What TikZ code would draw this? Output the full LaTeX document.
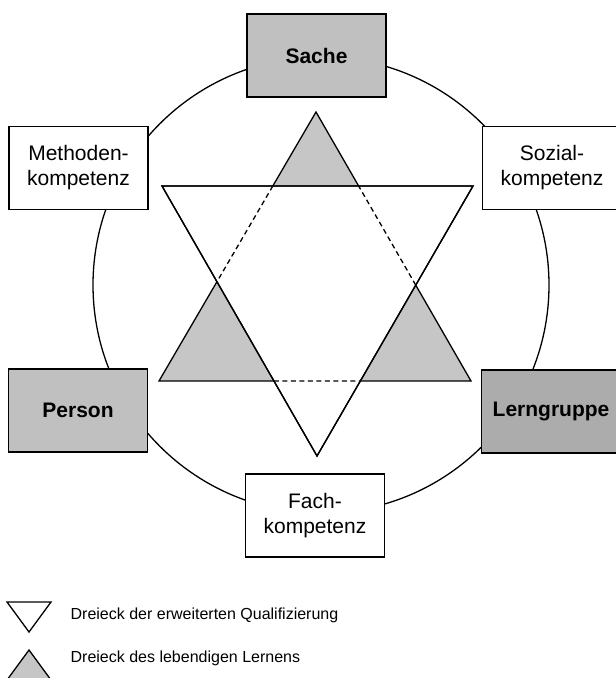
\documentclass[tikz,border=0pt]{standalone}
\usepackage{fontspec}
\setmainfont{Liberation Sans}
\definecolor{boxgray}{RGB}{192,192,192}
\definecolor{darkgray2}{RGB}{172,172,172}
\definecolor{trigray}{RGB}{198,198,198}
\begin{document}
\begin{tikzpicture}[x=1pt,y=-1pt,
  line width=1.3pt,
  kbox/.style={draw, fill=white, line width=1.2pt, minimum width=139pt, minimum height=83pt,
    align=center, inner sep=0pt, font=\fontsize{21}{25}\selectfont},
  gbox/.style={kbox, fill=boxgray, font=\fontsize{21}{25}\selectfont\bfseries},
  legtext/.style={anchor=west, inner sep=0pt, font=\fontsize{16}{19}\selectfont},
  dsh/.style={dash pattern=on 5pt off 3.5pt}]
\useasboundingbox (0,0) rectangle (616,678);

% circle
\coordinate (C) at (321,285);
\draw (C) circle[radius=228];

% triangles
\coordinate (U1) at (316,112);
\coordinate (U2) at (159,381);
\coordinate (U3) at (471,381);
\coordinate (D1) at (162,186);
\coordinate (D2) at (473,186);
\coordinate (D3) at (317,456);
\fill[trigray] (U1) -- (U2) -- (U3) -- cycle;
\draw[line join=miter] (U1) -- (U2) -- (U3) -- cycle;
\filldraw[fill=white, line join=miter] (D1) -- (D2) -- (D3) -- cycle;
\coordinate (P1) at (intersection of U1--U2 and D1--D2);
\coordinate (P2) at (intersection of U1--U2 and D1--D3);
\coordinate (P3) at (intersection of U2--U3 and D1--D3);
\coordinate (P4) at (intersection of U2--U3 and D2--D3);
\coordinate (P5) at (intersection of U1--U3 and D2--D3);
\coordinate (P6) at (intersection of U1--U3 and D1--D2);
\draw[dsh] (P1) -- (P2);
\draw[dsh] (P3) -- (P4);
\draw[dsh] (P5) -- (P6);
\draw[line join=miter] (D1) -- (D2) -- (D3) -- cycle;

% boxes
\node[gbox] (sache) at (316.5,55.5) {Sache};
\node[kbox] (methoden) at (78.5,168) {Methoden-\\kompetenz};
\node[kbox] (sozial) at (552,168) {Sozial-\\kompetenz};
\node[gbox] (person) at (78,410.5) {Person};
\node[gbox, fill=darkgray2] (lern) at (551,411.5) {Lerngruppe};
\node[kbox] (fach) at (315,515.5) {Fach-\\kompetenz};

% legend
\coordinate (L1) at (7,602);
\coordinate (L2) at (51,602);
\coordinate (L3) at (29,632);
\draw[line join=miter] (L1) -- (L2) -- (L3) -- cycle;
\coordinate (M1) at (29,650);
\coordinate (M2) at (7,680);
\coordinate (M3) at (51,680);
\filldraw[fill=trigray, line join=miter] (M1) -- (M2) -- (M3) -- cycle;
\node[legtext] (leg1) at (70,615) {Dreieck der erweiterten Qualifizierung};
\node[legtext] (leg2) at (70,658) {Dreieck des lebendigen Lernens};
\end{tikzpicture}
\end{document}
